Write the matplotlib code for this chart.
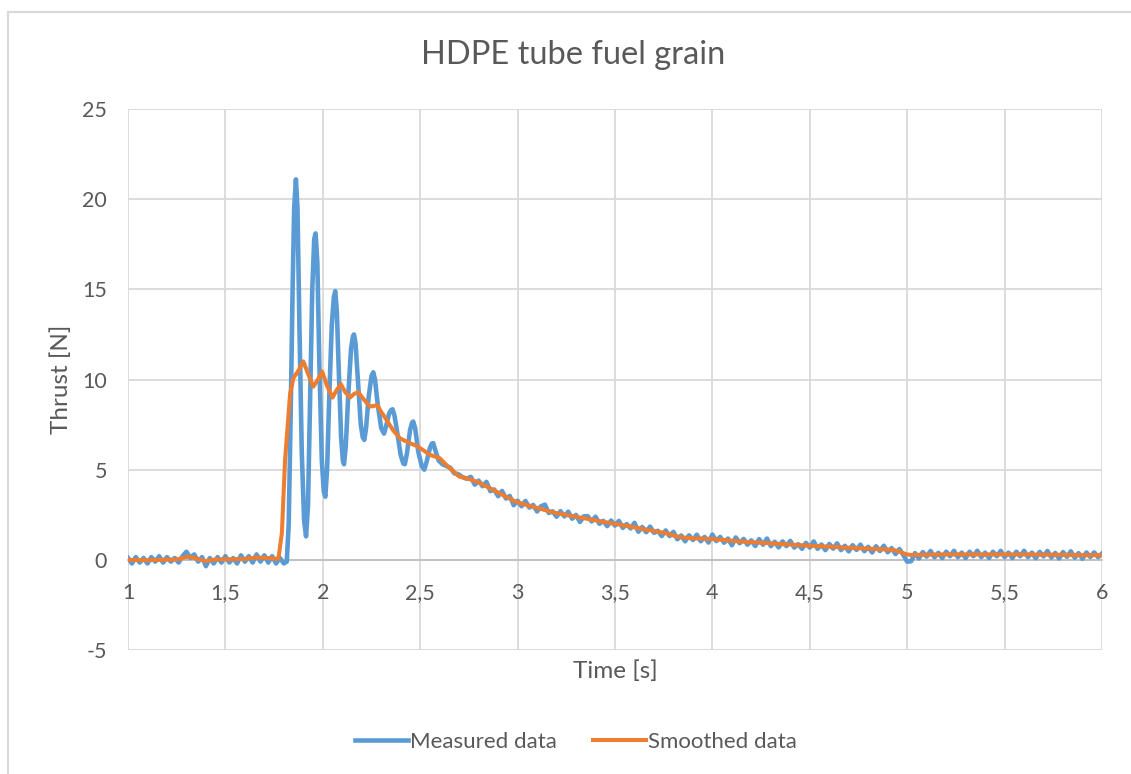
import numpy as np
import matplotlib
matplotlib.use("Agg")
import matplotlib.pyplot as plt
from matplotlib.lines import Line2D
from matplotlib.ticker import FuncFormatter, MultipleLocator

plt.rcParams["font.family"] = ["Lato", "DejaVu Sans"]

BLUE = "#5b9bd5"
ORANGE = "#ed7d31"
TEXT = "#595959"
GRID = "#d9d9d9"

# ---- measured data, before ignition (s, N)
base_t = [1.00, 1.02, 1.04, 1.06, 1.08, 1.10, 1.12, 1.14, 1.16, 1.18,
          1.20, 1.22, 1.24, 1.26, 1.28, 1.30, 1.32, 1.34, 1.36, 1.38,
          1.40, 1.42, 1.44, 1.46, 1.48, 1.50, 1.52, 1.54, 1.56, 1.58,
          1.60, 1.62, 1.64, 1.66, 1.68, 1.70, 1.72, 1.74, 1.76, 1.78, 1.80]
base_v = [0.10, -0.20, 0.15, -0.15, 0.10, -0.20, 0.15, -0.10, 0.20, -0.15,
          0.15, -0.10, 0.10, -0.15, 0.20, 0.45, 0.10, 0.30, -0.10, 0.15,
          -0.35, 0.10, -0.20, 0.15, -0.15, 0.20, -0.15, 0.10, -0.20, 0.25,
          -0.10, 0.20, -0.15, 0.30, -0.10, 0.25, -0.15, 0.20, -0.20, 0.10, -0.20]

# ---- measured data, ignition and pressure oscillations
osc_t = [1.815, 1.825, 1.835, 1.845, 1.853, 1.862, 1.870, 1.880, 1.892, 1.904,
         1.914, 1.924, 1.935, 1.946, 1.956, 1.963, 1.972, 1.982, 1.995, 2.005,
         2.013, 2.022, 2.033, 2.046, 2.057, 2.064, 2.072, 2.082, 2.094, 2.103,
         2.109, 2.118, 2.130, 2.145, 2.155, 2.160, 2.168, 2.180, 2.195, 2.205,
         2.213, 2.222, 2.235, 2.250, 2.259, 2.268, 2.282, 2.300, 2.314, 2.325,
         2.340, 2.350, 2.358, 2.368, 2.383, 2.400, 2.413, 2.421, 2.432, 2.448,
         2.458, 2.464, 2.474, 2.490, 2.508, 2.521, 2.532, 2.550, 2.560, 2.567,
         2.577, 2.595, 2.615, 2.635, 2.655, 2.675, 2.695, 2.715, 2.738]
osc_v = [-0.1, 2.0, 8.0, 15.0, 19.5, 21.1, 19.5, 13.0, 6.0, 2.2,
         1.3, 3.0, 9.0, 15.0, 17.8, 18.1, 16.5, 11.0, 5.5, 3.8,
         3.5, 5.0, 9.0, 13.0, 14.6, 14.9, 13.8, 10.5, 6.8, 5.5,
         5.3, 6.3, 9.0, 11.7, 12.4, 12.5, 12.0, 10.0, 7.5, 6.8,
         6.65, 7.3, 9.0, 10.2, 10.4, 10.0, 8.6, 7.3, 7.0, 7.4,
         8.1, 8.3, 8.35, 8.0, 7.0, 5.8, 5.35, 5.3, 5.9, 7.2,
         7.6, 7.67, 7.3, 6.0, 5.2, 5.0, 5.4, 6.2, 6.45, 6.47,
         6.1, 5.5, 5.3, 5.2, 5.1, 4.8, 4.75, 4.6, 4.5]

# ---- tail-off: smoothed level on a 0.02 s grid plus measured noise
tail_t = np.round(np.arange(2.76, 6.001, 0.02), 2)
tail_smooth = [4.45, 4.37, 4.29, 4.18, 4.07, 3.96, 3.85, 3.73, 3.62, 3.50, 3.39, 3.28, 3.18,
               3.12, 3.06, 3.00, 2.94, 2.88, 2.82, 2.76, 2.70, 2.64, 2.59,
               2.55, 2.51, 2.47, 2.43, 2.39, 2.35, 2.31, 2.27, 2.23, 2.19, 2.15, 2.11, 2.07, 2.03, 2.00,
               1.96, 1.92, 1.88, 1.84, 1.80, 1.76, 1.72, 1.68, 1.64, 1.60, 1.56, 1.52, 1.48,
               1.42, 1.35, 1.29, 1.25, 1.23, 1.21, 1.20, 1.19, 1.18, 1.17, 1.16, 1.15,
               1.14, 1.12, 1.10, 1.08, 1.06, 1.04, 1.02, 1.01, 0.99, 0.98, 0.97, 0.95, 0.94,
               0.93, 0.91, 0.90, 0.89, 0.87, 0.86, 0.85, 0.83, 0.82, 0.81, 0.79, 0.78,
               0.77, 0.76, 0.75, 0.74, 0.73, 0.72, 0.71, 0.69, 0.68, 0.67, 0.66, 0.65, 0.64,
               0.63, 0.62, 0.61, 0.60, 0.59, 0.58, 0.57, 0.55, 0.52, 0.45, 0.37, 0.30,
               0.27, 0.27, 0.28, 0.28, 0.28, 0.29, 0.29, 0.29, 0.30, 0.30,
               0.30, 0.30, 0.30, 0.30, 0.30, 0.30, 0.30, 0.30, 0.30, 0.30,
               0.30, 0.30, 0.30, 0.30, 0.30, 0.30, 0.30, 0.30, 0.30, 0.30,
               0.30, 0.30, 0.29, 0.29, 0.29, 0.29, 0.28, 0.28, 0.28, 0.28,
               0.27, 0.27, 0.27, 0.27, 0.26, 0.26, 0.26, 0.26, 0.25, 0.25]
tail_noise = [0.15, -0.20, 0.10, -0.10, 0.25, -0.15, 0.05, -0.20, 0.20, -0.10,
              0.15, -0.25, 0.10, -0.15, 0.20, -0.10, 0.10, -0.20, 0.15, 0.30,
              -0.10, 0.05, -0.20, 0.15, -0.10, 0.20, -0.15, 0.10, -0.25, 0.10,
              0.15, -0.10, 0.20, -0.15, 0.05, -0.20, 0.15, -0.10, 0.20, -0.15,
              0.10, -0.10, 0.25, -0.20, 0.10, -0.15, 0.20, -0.10, 0.05, -0.20,
              0.15, -0.10, 0.20, -0.15, 0.10, -0.20, 0.15, -0.10, 0.20, -0.15,
              0.10, -0.20, 0.25, -0.10, 0.15, -0.15, 0.10, -0.25, 0.20, -0.10,
              0.15, -0.15, 0.10, -0.20, 0.20, -0.10, 0.25, -0.15, 0.10, -0.20,
              0.15, -0.10, 0.20, -0.15, 0.05, -0.20, 0.15, -0.10, 0.25, -0.15,
              0.10, -0.20, 0.15, -0.10, 0.20, -0.15, 0.10, -0.20, 0.15, -0.10,
              0.20, -0.15, 0.10, -0.20, 0.15, -0.10, 0.20, -0.15, 0.10, -0.20,
              0.15, -0.10, -0.40, -0.35, 0.10, -0.20, 0.15, -0.10, 0.20, -0.15,
              0.10, -0.20, 0.15, -0.10, 0.20, -0.15, 0.10, -0.20, 0.15, -0.10,
              0.20, -0.15, 0.10, -0.20, 0.15, -0.10, 0.20, -0.15, 0.10, -0.20,
              0.15, -0.10, 0.20, -0.15, 0.10, -0.20, 0.15, -0.10, 0.20, -0.15,
              0.10, -0.20, 0.15, -0.10, 0.20, -0.15, 0.10, -0.20, 0.15, -0.10,
              0.15, -0.10, 0.10]

# ---- smoothed data up to the tail-off
smooth_t = [1.00, 1.10, 1.25, 1.31, 1.36, 1.395, 1.45, 1.60, 1.66, 1.72,
            1.772, 1.79, 1.806, 1.832, 1.849, 1.875, 1.900, 1.925, 1.951, 1.975,
            1.997, 2.020, 2.050, 2.070, 2.093, 2.115, 2.140, 2.160, 2.182, 2.210,
            2.242, 2.280, 2.300, 2.327, 2.360, 2.396, 2.440, 2.481, 2.520, 2.550,
            2.600, 2.640, 2.700]
smooth_v = [0.0, -0.02, 0.02, 0.18, 0.05, -0.07, 0.02, 0.05, 0.13, 0.10,
            0.05, 1.5, 5.5, 9.2, 10.07, 10.5, 11.0, 10.3, 9.6, 10.0,
            10.44, 9.7, 9.0, 9.4, 9.74, 9.3, 9.0, 9.2, 9.3, 8.9,
            8.5, 8.57, 8.2, 7.76, 7.2, 6.74, 6.5, 6.32, 6.05, 5.82,
            5.64, 5.2, 4.62]

meas_t = np.concatenate([base_t, osc_t, tail_t])
meas_v = np.concatenate([base_v, osc_v, np.array(tail_smooth) + np.array(tail_noise)])
sm_t = np.concatenate([smooth_t, tail_t])
sm_v = np.concatenate([smooth_v, tail_smooth])

fig = plt.figure(figsize=(11.31, 7.74), dpi=100)
ax = fig.add_axes([128 / 1131, 1 - 650 / 774, (1102 - 128) / 1131, (650 - 109) / 774])

ax.plot(meas_t, meas_v, color=BLUE, lw=3.3, solid_joinstyle="round", label="Measured data", zorder=3)
ax.plot(sm_t, sm_v, color=ORANGE, lw=2.9, solid_joinstyle="round", label="Smoothed data", zorder=4)

ax.set_xlim(1, 6)
ax.set_ylim(-5, 25)
ax.xaxis.set_major_locator(MultipleLocator(0.5))
ax.yaxis.set_major_locator(MultipleLocator(5))
fmt = FuncFormatter(lambda v, p: f"{v:g}".replace(".", ","))
ax.xaxis.set_major_formatter(fmt)
ax.yaxis.set_major_formatter(fmt)

ax.grid(True, color=GRID, lw=1.3, zorder=0)
ax.set_axisbelow(True)
for side in ["left", "right", "top"]:
    ax.spines[side].set_visible(False)
ax.spines["bottom"].set_position(("data", 0))
ax.spines["bottom"].set_color("#bfbfbf")
ax.spines["bottom"].set_linewidth(1.3)
ax.spines["bottom"].set_zorder(1)
ax.tick_params(axis="both", length=0, labelsize=15.5, labelcolor=TEXT)
ax.tick_params(axis="x", pad=17)
ax.tick_params(axis="y", pad=15)

ax.set_xlabel("Time [s]", fontsize=17.5, color=TEXT)
ax.xaxis.set_label_coords(0.5, -0.02)
ax.set_ylabel("Thrust [N]", fontsize=17.5, color=TEXT)
ax.yaxis.set_label_coords(-0.057, 0.5)

fig.text(573 / 1131, 1 - 55 / 774, "HDPE tube fuel grain", fontsize=23.5, color=TEXT,
         ha="center", va="center")

fig.legend(loc="center", bbox_to_anchor=(576 / 1131, 1 - 742 / 774), ncol=2,
           frameon=False, fontsize=16, labelcolor=TEXT, handlelength=2.4,
           handletextpad=0.1, columnspacing=1.6)

# outer chart border (only top and left edges are inside the picture)
bx, by = 8 / 1131, 1 - 11.5 / 774
fig.add_artist(Line2D([bx, bx], [0, by], transform=fig.transFigure, color=GRID, lw=1.5))
fig.add_artist(Line2D([bx, 1], [by, by], transform=fig.transFigure, color=GRID, lw=1.5))

fig.savefig("out.png", dpi=100, facecolor="white")
